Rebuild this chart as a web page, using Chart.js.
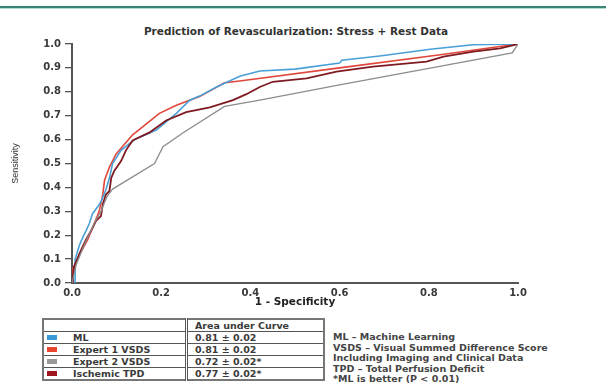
<!DOCTYPE html>
<html>
<head>
<meta charset="utf-8">
<script src="https://cdn.jsdelivr.net/npm/chart.js@4"></script>
<style>
  body { margin: 0; background: #fff; width: 606px; height: 389px; overflow: hidden; position: relative; font-family: "DejaVu Sans", sans-serif; }
  .topline { position: absolute; left: 0; top: 6px; width: 606px; height: 2px; background: #3b8577; border-bottom: 1px solid #b5dcd3; }
  .title { position: absolute; left: 0; top: 25px; width: 592px; text-align: center; font-weight: bold; font-size: 10.5px; color: #333; }
  #wrap { position: absolute; left: 0; top: 0; width: 606px; height: 312px; }
  table.auc { position: absolute; left: 42px; top: 318px; border-collapse: collapse; border: 2px solid #777; font-size: 9.5px; font-weight: bold; color: #3a3a3a; }
  table.auc td { border: 1px solid #555; height: 11px; padding: 0 0 0 3px; line-height: 11px; white-space: nowrap; }
  table.auc td.c1 { width: 138px; }
  table.auc td.c2 { width: 128px; padding-left: 7px; border-left: 3px double #555; }
  .sw { display: inline-block; width: 10px; height: 5px; margin-right: 16px; vertical-align: 1px; }
  .notes { position: absolute; left: 333px; top: 332px; font-size: 9.5px; font-weight: bold; line-height: 10.6px; color: #444; white-space: nowrap; }
</style>
</head>
<body>
<div class="topline"></div>
<div class="title">Prediction of Revascularization: Stress + Rest Data</div>
<div id="wrap"><canvas id="rocChart" width="606" height="312"></canvas></div>

<table class="auc">
  <tr><td class="c1"></td><td class="c2">Area under Curve</td></tr>
  <tr><td class="c1"><span class="sw" style="background:#3b9ad6"></span>ML</td><td class="c2" id="auc0"></td></tr>
  <tr><td class="c1"><span class="sw" style="background:#e8452c"></span>Expert 1 VSDS</td><td class="c2" id="auc1"></td></tr>
  <tr><td class="c1"><span class="sw" style="background:#999"></span>Expert 2 VSDS</td><td class="c2" id="auc2"></td></tr>
  <tr><td class="c1"><span class="sw" style="background:#a0141e"></span>Ischemic TPD</td><td class="c2" id="auc3"></td></tr>
</table>

<div class="notes">
  ML – Machine Learning<br>
  VSDS – Visual Summed Difference Score<br>
  Including Imaging and Clinical Data<br>
  TPD – Total Perfusion Deficit<br>
  *ML is better (P &lt; 0.01)
</div>

<script>
// ROC curves (x = 1 - specificity, y = sensitivity)
const mlX = [0, 0.007, 0.007, 0.012, 0.017, 0.024, 0.032, 0.039, 0.046, 0.058, 0.065, 0.076, 0.084, 0.091, 0.11, 0.14, 0.189, 0.234, 0.264, 0.286, 0.324, 0.376, 0.421, 0.5, 0.6, 0.605, 0.69, 0.803, 0.9, 1.0];
const mlY = [0, 0, 0.10, 0.13, 0.16, 0.19, 0.22, 0.25, 0.29, 0.32, 0.34, 0.39, 0.44, 0.50, 0.555, 0.60, 0.64, 0.71, 0.765, 0.782, 0.82, 0.865, 0.887, 0.895, 0.92, 0.932, 0.95, 0.978, 0.997, 1.0];

const exp1X = [0, 0.002, 0.02, 0.035, 0.046, 0.061, 0.069, 0.073, 0.084, 0.099, 0.136, 0.196, 0.234, 0.286, 0.342, 0.376, 0.6, 0.826, 1.0];
const exp1Y = [0, 0.06, 0.13, 0.18, 0.23, 0.30, 0.37, 0.43, 0.485, 0.54, 0.62, 0.71, 0.744, 0.78, 0.838, 0.845, 0.90, 0.955, 1.0];

const exp2X = [0, 0.01, 0.03, 0.05, 0.065, 0.078, 0.091, 0.185, 0.204, 0.25, 0.342, 0.421, 0.6, 0.8, 0.987, 1.0];
const exp2Y = [0, 0.08, 0.17, 0.25, 0.30, 0.36, 0.393, 0.50, 0.57, 0.63, 0.739, 0.765, 0.829, 0.898, 0.963, 1.0];

const tpdX = [0, 0.002, 0.005, 0.016, 0.031, 0.043, 0.054, 0.065, 0.069, 0.076, 0.084, 0.088, 0.095, 0.11, 0.121, 0.136, 0.174, 0.211, 0.256, 0.309, 0.361, 0.391, 0.421, 0.45, 0.526, 0.593, 0.675, 0.795, 0.833, 0.9, 0.96, 1.0];
const tpdY = [0, 0.03, 0.07, 0.12, 0.18, 0.22, 0.26, 0.28, 0.33, 0.37, 0.385, 0.44, 0.47, 0.51, 0.555, 0.596, 0.63, 0.68, 0.715, 0.735, 0.765, 0.79, 0.82, 0.842, 0.856, 0.884, 0.905, 0.926, 0.947, 0.968, 0.982, 1.0];

const aucLabels = ['0.81 ± 0.02', '0.81 ± 0.02', '0.72 ± 0.02*', '0.77 ± 0.02*'];

aucLabels.forEach((t, i) => { document.getElementById('auc' + i).textContent = t; });

function pts(xs, ys) {
    return xs.map((x, i) => ({ x: x, y: ys[i] }));
}

const tickFont = { family: 'DejaVu Sans', size: 10, weight: 'bold' };

new Chart(document.getElementById('rocChart').getContext('2d'), {
    type: 'scatter',
    data: {
        datasets: [
            { label: 'Expert 2 VSDS', data: pts(exp2X, exp2Y), borderColor: '#8c8c8c', borderWidth: 1.3 },
            { label: 'Ischemic TPD', data: pts(tpdX, tpdY), borderColor: '#7e1a22', borderWidth: 1.8 },
            { label: 'ML', data: pts(mlX, mlY), borderColor: '#4aa0d6', borderWidth: 1.6 },
            { label: 'Expert 1 VSDS', data: pts(exp1X, exp1Y), borderColor: '#e0463a', borderWidth: 1.6 }
        ].map(d => Object.assign(d, { showLine: true, pointRadius: 0, tension: 0, fill: false }))
    },
    options: {
        responsive: false,
        animation: false,
        layout: { padding: { top: 44, right: 88, bottom: 0, left: 0 } },
        plugins: { legend: { display: false }, tooltip: { enabled: false } },
        scales: {
            x: {
                type: 'linear', min: 0, max: 1,
                afterFit: s => { s.height = 29; },
                border: { display: true, color: '#555', width: 2 },
                grid: { drawOnChartArea: false, drawTicks: false },
                ticks: { stepSize: 0.2, padding: 4, color: '#3a3a3a', font: tickFont, callback: v => v.toFixed(1) },
                title: { display: true, text: '1 - Specificity', color: '#222', font: { family: 'DejaVu Sans', size: 10.5, weight: 'bold' }, padding: { top: 0, bottom: 3 } }
            },
            y: {
                type: 'linear', min: 0, max: 1,
                afterFit: s => { s.width = 72; },
                border: { display: true, color: '#555', width: 2 },
                grid: { drawOnChartArea: false, drawTicks: true, tickLength: 7, color: '#555', lineWidth: 1.3 },
                ticks: { stepSize: 0.1, padding: 4, color: '#3a3a3a', font: tickFont, callback: v => v.toFixed(1) },
                title: { display: true, text: 'Sensitivity', color: '#333', font: { family: 'Liberation Sans', size: 9 }, padding: { top: 10, bottom: 0 } }
            }
        }
    }
});
</script>
</body>
</html>
